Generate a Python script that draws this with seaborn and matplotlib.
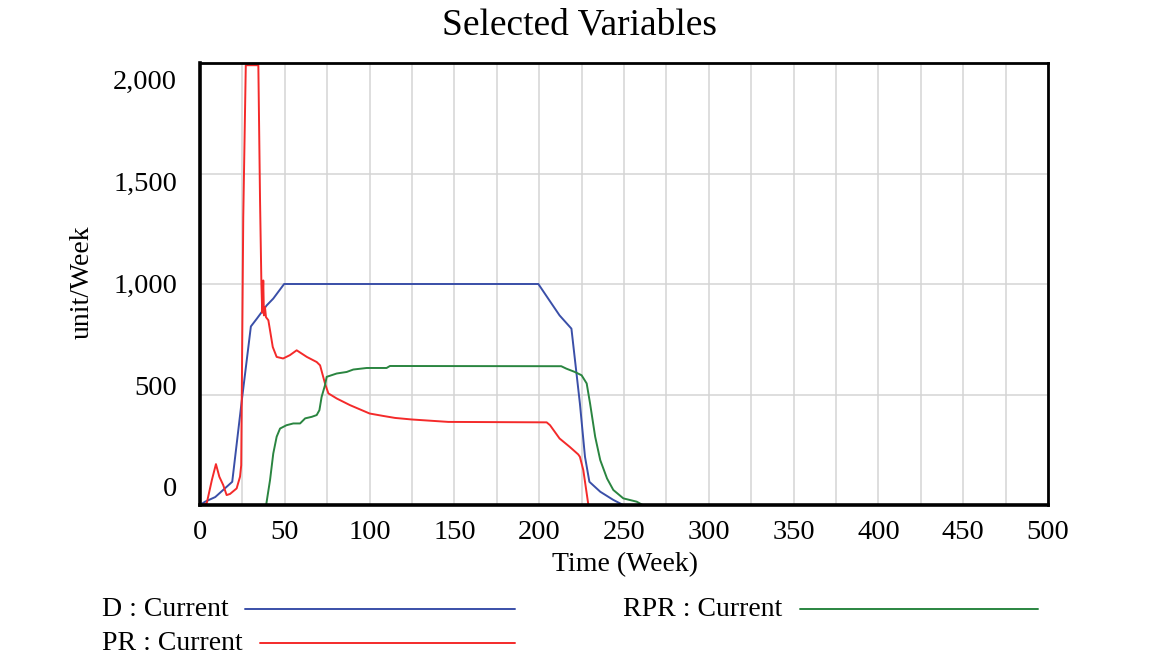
import matplotlib
matplotlib.use("Agg")
import matplotlib.pyplot as plt
from matplotlib.lines import Line2D
import numpy as np
import pandas as pd
import seaborn as sns

# values
d_time = [0, 3, 9, 19, 24.6, 30, 33.5, 39.3, 43.2, 49.6, 199.5, 206, 212, 219,
          224, 227, 229.6, 236, 243.7, 249.5, 500]
d_vals = [0, 15, 36, 105, 470, 808, 843, 903, 934, 1000, 1000, 926, 858, 798,
          459, 218, 105, 60, 23, 0, 0]

pr_time = [0, 2, 4, 7, 9.4, 11.4, 13.7, 15.7, 17.7, 21.6, 23.6, 24.3, 25.5, 27,
           34.4, 35.4, 36.2, 36.7, 37.3, 37.7, 38.3, 38.9, 40.3, 41.3, 42.9, 45.2,
           49, 53, 57, 63, 68.8, 70.8, 73.7, 75.7, 80.6, 88.4, 100, 108, 115,
           124.8, 146.4, 204.4, 206.4, 212, 218, 223, 224, 226, 229, 500]
pr_vals = [0, 0, 9, 113, 185, 128, 90, 45, 50, 75, 128, 180, 1300, 1990,
           1990, 1378, 1001, 870, 1016, 858, 896, 850, 836, 790, 715, 670,
           663, 678, 700, 670, 647, 632, 550, 505, 482, 452, 414, 403, 394,
           387, 376, 374, 361, 301, 263, 229, 218, 158, 0, 0]

rpr_time = [0, 39, 41.3, 43.2, 45.2, 47.2, 51, 55, 59, 62, 65.9, 68.8, 70.4,
            71.7, 73.7, 74.7, 80.6, 86.5, 90.4, 98.3, 110, 112, 213, 216, 221,
            225, 228, 230, 233, 236, 240, 243.7, 249.6, 257.5, 261, 500]
rpr_vals = [0, 0, 113, 233, 309, 346, 361, 369, 369, 392, 399, 407, 429,
            489, 542, 580, 595, 602, 613, 620, 620, 629, 628, 617, 602,
            587, 550, 459, 309, 203, 120, 68, 30, 15, 0, 0]

series_names = ["D : Current", "PR : Current", "RPR : Current"]
series_colors = ["#3a4fa8", "#f42a2a", "#2a8540"]
x_ticks = list(range(0, 501, 50))
y_ticks = [0, 500, 1000, 1500, 2000]
y_tick_labels = ["0", "500", "1,000", "1,500", "2,000"]

df = pd.concat([
    pd.DataFrame({"t": d_time, "v": d_vals, "s": series_names[0]}),
    pd.DataFrame({"t": pr_time, "v": pr_vals, "s": series_names[1]}),
    pd.DataFrame({"t": rpr_time, "v": rpr_vals, "s": series_names[2]}),
])

sns.set_theme(style="white")
plt.rcParams["font.family"] = ["Liberation Serif", "DejaVu Serif"]
plt.rcParams["text.color"] = "black"

W, H = 1151, 661
fig = plt.figure(figsize=(W / 100, H / 100), dpi=100)
ax = fig.add_axes([200 / W, 1 - 505 / H, 848 / W, 442 / H])

sns.lineplot(data=df, x="t", y="v", hue="s", palette=series_colors,
             hue_order=series_names, estimator=None, sort=False,
             linewidth=1.4, legend=False, ax=ax)

ax.set_xlim(0, 500)
ax.set_ylim(0, 2000)
ax.set_xticks(x_ticks)
ax.set_xticks(range(25, 500, 50), minor=True)
ax.set_yticks(y_ticks)
ax.set_yticklabels([])
ax.grid(True, which="both", color="#d4d4d4", linewidth=1.1)
ax.tick_params(which="both", length=0, labelsize=20.5, pad=11,
               colors="black", labelcolor="black")
ax.set_xlabel("")
ax.set_ylabel("")

for side in ["left", "bottom"]:
    ax.spines[side].set_linewidth(2.6)
    ax.spines[side].set_color("black")
for side in ["top", "right"]:
    ax.spines[side].set_linewidth(2.0)
    ax.spines[side].set_color("black")

# Vensim spreads the y labels a little inside the range
for v, lab in zip(y_ticks, y_tick_labels):
    ax.text(-0.027, 68 + 0.9215 * v, lab, transform=ax.get_yaxis_transform(),
            ha="right", va="center", fontsize=20.5, color="black")

fig.text(580 / W, 1 - 25 / H, "Selected Variables", ha="center", va="center",
         fontsize=27, color="black")
fig.text(625 / W, 1 - 565 / H, "Time (Week)", ha="center", va="center",
         fontsize=20, color="black")
fig.text(82 / W, 1 - 282 / H, "unit/Week", ha="center", va="center",
         rotation=90, fontsize=20, color="black")

# legend drawn the Vensim way: label then a long sample line
legend_spots = [(102, 245, 515, 609), (102, 260, 515, 643), (623, 800, 1038, 609)]
for name, color, (tx, x0, x1, y) in zip(series_names, series_colors, legend_spots):
    fig.text(tx / W, 1 - y / H, name, ha="left", va="center", fontsize=20,
             color="black")
    fig.add_artist(Line2D([x0 / W, x1 / W], [1 - y / H, 1 - y / H],
                          transform=fig.transFigure, color=color, linewidth=1.4))

fig.savefig("out.png", dpi=100)
